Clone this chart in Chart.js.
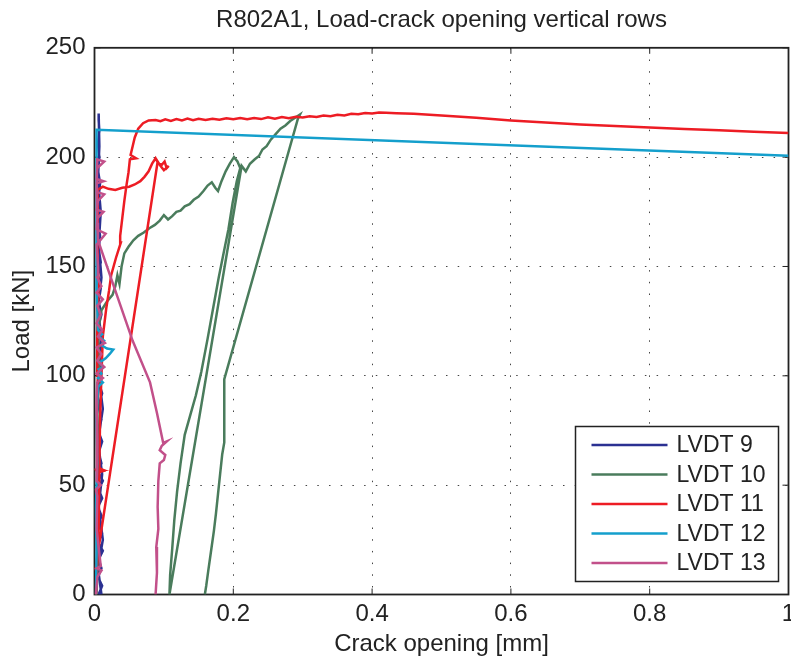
<!DOCTYPE html>
<html>
<head>
<meta charset="utf-8">
<title>R802A1, Load-crack opening vertical rows</title>
<script src="https://cdn.jsdelivr.net/npm/chart.js@4.4.1/dist/chart.umd.min.js"></script>
<style>
    html, body { margin: 0; padding: 0; background: #fff; overflow: hidden; }
    #wrap { width: 791px; height: 666px; overflow: hidden; }
</style>
</head>
<body>
<div id="wrap"><canvas id="chart" width="883" height="666"></canvas></div>
<script>
// R802A1 - load vs crack opening, vertical LVDT rows
// every series is a list of [crack opening mm, load kN] pairs

const xTicks = [0, 0.2, 0.4, 0.6, 0.8, 1];
const yTicks = [0, 50, 100, 150, 200, 250];
const seriesNames = ['LVDT 9', 'LVDT 10', 'LVDT 11', 'LVDT 12', 'LVDT 13'];

// LVDT 9 - sits on the axis the whole test
const lvdt9 = [
    [0.006, 0], [0.011, 4], [0.005, 8], [0.010, 12], [0.006, 16], [0.012, 20], [0.005, 24], [0.011, 28], [0.006, 32], [0.010, 36],
    [0.005, 40], [0.011, 44], [0.006, 48], [0.012, 52], [0.005, 56], [0.010, 60], [0.006, 65], [0.011, 70], [0.005, 75], [0.010, 80],
    [0.006, 86], [0.011, 92], [0.005, 98], [0.010, 104], [0.006, 110], [0.009, 116], [0.005, 122], [0.010, 128], [0.006, 134], [0.009, 140],
    [0.005, 146], [0.009, 152], [0.006, 158], [0.008, 164], [0.005, 170], [0.008, 176], [0.006, 182], [0.008, 188], [0.005, 194], [0.007, 200],
    [0.005, 206], [0.007, 212], [0.006, 217], [0.006, 220],
    [0.007, 205], [0.005, 190], [0.009, 175], [0.006, 160], [0.010, 145], [0.005, 130], [0.011, 115], [0.006, 100], [0.012, 85],
    [0.005, 70], [0.011, 55], [0.006, 40], [0.012, 25], [0.005, 12], [0.010, 0]
];

// LVDT 10 - first loop to 200 kN, unloading, second loop to 219 kN
const lvdt10 = [
    [0.003, 0], [0.005, 18], [0.003, 40], [0.006, 62], [0.004, 85], [0.007, 105], [0.005, 120], [0.010, 130], [0.018, 134], [0.026, 137],
    [0.030, 141], [0.033, 146], [0.036, 142], [0.039, 150], [0.043, 156], [0.049, 159], [0.056, 162], [0.063, 164], [0.071, 165.5], [0.079, 167.5],
    [0.087, 169], [0.094, 171], [0.100, 173.5], [0.106, 171.5], [0.112, 173], [0.118, 175], [0.124, 175.5], [0.130, 177.5], [0.137, 178.5], [0.143, 180.5],
    [0.150, 182], [0.157, 184.5], [0.163, 187], [0.169, 188.5], [0.174, 186], [0.178, 184.5], [0.183, 189], [0.189, 193.5], [0.195, 197], [0.201, 200],
    [0.206, 198], [0.210, 195],
    [0.205, 189], [0.199, 179], [0.193, 167], [0.186, 156], [0.179, 145], [0.171, 131], [0.163, 117], [0.154, 102], [0.146, 91], [0.138, 82],
    [0.130, 73], [0.124, 60], [0.119, 47], [0.115, 34], [0.112, 21], [0.109, 9], [0.108, 0],
    [0.212, 196], [0.218, 193.5], [0.224, 197], [0.231, 199], [0.237, 200.5], [0.242, 203.5], [0.248, 205], [0.254, 208], [0.261, 210.5], [0.268, 213],
    [0.275, 214.5], [0.282, 216.5], [0.289, 218], [0.296, 219.5], [0.293, 217.5],
    [0.187, 98.5], [0.187, 69.5], [0.184, 64], [0.181, 55], [0.178, 46], [0.175, 37], [0.172, 29], [0.168, 20], [0.164, 11], [0.161, 4], [0.159, 0]
];

// LVDT 11
const lvdt11 = [
    [0.002, 0], [0.004, 15], [0.003, 35], [0.005, 56], [0.002, 57], [0.012, 57], [0.004, 58], [0.003, 80], [0.005, 100], [0.004, 120],
    [0.006, 140], [0.004, 160], [0.005, 176], [0.004, 185],
    [0.012, 186.5], [0.020, 185.5], [0.030, 185], [0.040, 186], [0.050, 186.5], [0.058, 187.5], [0.066, 189], [0.072, 191], [0.078, 193.5], [0.083, 197],
    [0.088, 199.5], [0.092, 197], [0.097, 196.5], [0.101, 198], [0.104, 195], [0.107, 196], [0.100, 194], [0.095, 196],
    [0.091, 198], [0.001, 11],
    [0.004, 14], [0.006, 30], [0.007, 56], [0.013, 56.5], [0.007, 58], [0.008, 80], [0.010, 100], [0.012, 118], [0.017, 131], [0.021, 139],
    [0.024, 146], [0.031, 154], [0.038, 161], [0.037, 164], [0.040, 172], [0.043, 180], [0.046, 187], [0.049, 193], [0.051, 199], [0.060, 199.5],
    [0.052, 201], [0.055, 205], [0.058, 209], [0.063, 213], [0.070, 215.5], [0.078, 216.8],
    [0.088, 217], [0.095, 216.4], [0.102, 217.3], [0.110, 216.6], [0.118, 217.4], [0.126, 216.8], [0.134, 217.6], [0.142, 216.9], [0.150, 217.5], [0.160, 217.0],
    [0.170, 217.6], [0.180, 217.1], [0.190, 217.8], [0.200, 217.3], [0.210, 217.9], [0.220, 217.3], [0.230, 217.9], [0.240, 217.4], [0.250, 218.2], [0.260, 217.6],
    [0.270, 218.3], [0.280, 217.8], [0.290, 218.5], [0.300, 218.1], [0.310, 218.7], [0.320, 218.4], [0.330, 219.0], [0.340, 218.7], [0.350, 219.4], [0.360, 219.1],
    [0.370, 219.8], [0.380, 219.6], [0.390, 220.2], [0.400, 220.0], [0.410, 220.4], [0.420, 220.3], [0.435, 220.1], [0.460, 219.8], [0.500, 219.0], [0.550, 218.0],
    [0.600, 216.8], [0.650, 215.8], [0.700, 214.9], [0.750, 214.2], [0.800, 213.5], [0.850, 212.9], [0.900, 212.3], [0.950, 211.6], [1.000, 211.0]
];

// LVDT 12 - drops out above ~120 kN and jumps to a straight line
const lvdt12 = [
    [0.002, 0], [0.003, 20], [0.002, 40], [0.004, 60], [0.003, 80], [0.005, 95], [0.012, 97], [0.005, 99], [0.010, 101], [0.006, 103],
    [0.013, 104], [0.007, 106], [0.016, 108], [0.022, 110], [0.027, 112], [0.018, 112.5], [0.010, 114], [0.014, 116], [0.006, 118], [0.011, 119],
    [0.005, 121], [0.003, 140], [0.003, 212.5], [1.000, 200.6]
];

// LVDT 13
const lvdt13 = [
    [0.002, 0], [0.004, 8], [0.010, 11], [0.003, 12], [0.009, 13], [0.003, 30], [0.004, 45], [0.002, 48], [0.009, 50], [0.003, 52],
    [0.004, 70], [0.003, 90], [0.004, 97], [0.012, 99], [0.003, 101], [0.014, 104], [0.004, 107], [0.010, 110], [0.003, 113], [0.015, 115],
    [0.005, 118], [0.011, 121], [0.003, 124], [0.009, 128], [0.004, 132], [0.012, 135], [0.003, 138], [0.010, 141], [0.004, 145], [0.005, 150],
    [0.003, 160], [0.016, 165], [0.003, 167], [0.004, 172], [0.013, 175], [0.003, 176], [0.005, 180], [0.014, 183], [0.004, 184], [0.003, 188],
    [0.013, 189], [0.003, 190], [0.004, 195], [0.014, 198], [0.004, 199], [0.003, 185], [0.004, 170], [0.005, 162],
    [0.030, 139], [0.055, 116], [0.080, 97], [0.090, 83], [0.099, 69.3], [0.104, 70], [0.097, 68], [0.094, 66], [0.102, 63.8], [0.100, 61.5],
    [0.094, 60], [0.092, 52], [0.091, 40], [0.092, 30], [0.089, 21.7], [0.090, 10], [0.088, 0]
];

const seriesData = [lvdt9, lvdt10, lvdt11, lvdt12, lvdt13];
const seriesColors = ['#2b3192', '#4a7c5c', '#ed1c24', '#149fcc', '#c2508a'];

const FONT = 'Liberation Sans, Arial, Helvetica, sans-serif';
const INK = '#222';

// box around the axes with MATLAB style inward ticks
const framePlugin = {
    id: 'frame',
    beforeDatasetsDraw(chart) {
        const { ctx, chartArea: a, scales } = chart;
        ctx.save();
        ctx.strokeStyle = INK;
        ctx.lineWidth = 1.8;
        ctx.strokeRect(a.left, a.top, a.right - a.left, a.bottom - a.top);
        ctx.lineWidth = 1;
        ctx.beginPath();
        scales.x.ticks.forEach(t => {
            const px = scales.x.getPixelForValue(t.value);
            ctx.moveTo(px, a.bottom); ctx.lineTo(px, a.bottom - 6);
            ctx.moveTo(px, a.top); ctx.lineTo(px, a.top + 6);
        });
        scales.y.ticks.forEach(t => {
            const py = scales.y.getPixelForValue(t.value);
            ctx.moveTo(a.left, py); ctx.lineTo(a.left + 6, py);
            ctx.moveTo(a.right, py); ctx.lineTo(a.right - 6, py);
        });
        ctx.stroke();
        ctx.restore();
    }
};

// legend box in the lower right corner of the plot
const boxLegendPlugin = {
    id: 'boxLegend',
    afterDatasetsDraw(chart) {
        const { ctx, chartArea: a } = chart;
        const w = 203, h = 155;
        const left = a.right - 10 - w;
        const top = a.bottom - 13 - h;
        ctx.save();
        ctx.fillStyle = '#fff';
        ctx.fillRect(left, top, w, h);
        ctx.strokeStyle = INK;
        ctx.lineWidth = 1.5;
        ctx.strokeRect(left, top, w, h);
        ctx.font = '23px ' + FONT;
        ctx.textBaseline = 'middle';
        ctx.textAlign = 'left';
        chart.data.datasets.forEach((ds, i) => {
            const cy = top + 18.5 + i * 29.5;
            ctx.strokeStyle = ds.borderColor;
            ctx.lineWidth = 2.5;
            ctx.beginPath();
            ctx.moveTo(left + 16, cy);
            ctx.lineTo(left + 92, cy);
            ctx.stroke();
            ctx.fillStyle = INK;
            ctx.fillText(ds.label, left + 101, cy + 1);
        });
        ctx.restore();
    }
};

const datasets = seriesNames.map((name, i) => ({
    label: name,
    data: seriesData[i].map(p => ({ x: p[0], y: p[1] })),
    showLine: true,
    borderColor: seriesColors[i],
    backgroundColor: seriesColors[i],
    borderWidth: 2.5,
    pointRadius: 0,
    tension: 0,
    order: seriesNames.length - i
}));

new Chart(document.getElementById('chart'), {
    type: 'scatter',
    data: { datasets: datasets },
    plugins: [framePlugin, boxLegendPlugin],
    options: {
        responsive: false,
        animation: false,
        events: [],
        layout: { padding: 0 },
        plugins: {
            legend: { display: false },
            tooltip: { enabled: false },
            title: {
                display: true,
                text: 'R802A1, Load-crack opening vertical rows',
                color: INK,
                font: { family: FONT, size: 24, weight: 'normal' },
                padding: { top: 6, bottom: 13 }
            }
        },
        scales: {
            x: {
                type: 'linear',
                min: 0,
                max: 1,
                afterBuildTicks: s => { s.ticks = xTicks.map(v => ({ value: v })); },
                afterFit: s => { s.height = 71.5; },
                ticks: {
                    color: INK,
                    padding: 5,
                    maxRotation: 0,
                    font: { family: FONT, size: 24 },
                    callback: v => String(v)
                },
                grid: { color: '#444', lineWidth: 1, drawTicks: false },
                border: { display: false, dash: [1.5, 10.2] },
                title: {
                    display: true,
                    text: 'Crack opening [mm]',
                    color: INK,
                    font: { family: FONT, size: 24 },
                    padding: { top: 0, bottom: 7 }
                }
            },
            y: {
                type: 'linear',
                min: 0,
                max: 250,
                afterBuildTicks: s => { s.ticks = yTicks.map(v => ({ value: v })); },
                afterFit: s => { s.width = 94.5; },
                ticks: {
                    color: INK,
                    padding: 9,
                    font: { family: FONT, size: 24 },
                    callback: v => String(v)
                },
                grid: { color: '#444', lineWidth: 1, drawTicks: false },
                border: { display: false, dash: [1.5, 10.2] },
                title: {
                    display: true,
                    text: 'Load [kN]',
                    color: INK,
                    font: { family: FONT, size: 24 },
                    padding: { top: 8, bottom: 0 }
                }
            },
            // empty right-hand axis: keeps the plot symmetric so the title centres over it
            yRight: {
                type: 'linear',
                position: 'right',
                display: true,
                min: 0,
                max: 250,
                afterFit: s => { s.width = 94.5; },
                ticks: { display: false },
                grid: { display: false },
                border: { display: false }
            }
        }
    }
});
</script>
</body>
</html>
